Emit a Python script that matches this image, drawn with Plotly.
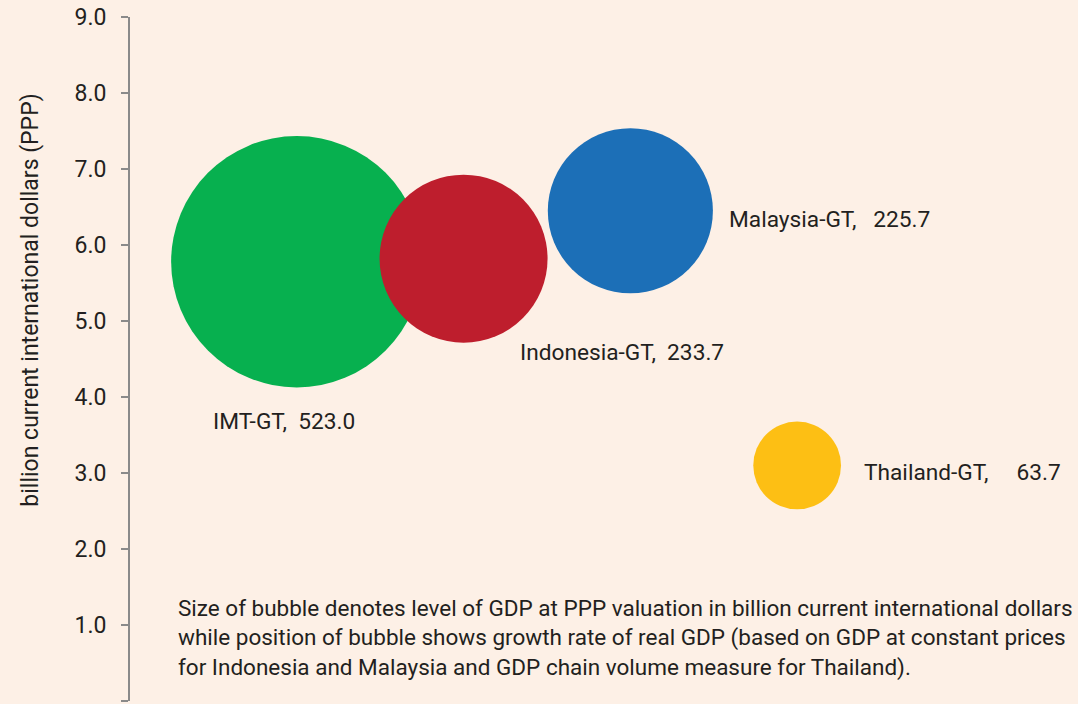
import plotly.graph_objects as go

names = ["IMT-GT", "Indonesia-GT", "Malaysia-GT", "Thailand-GT"]
xpos = [1, 2, 3, 4]
growth = [5.78, 5.82, 6.45, 3.10]
gdp = [523.0, 233.7, 225.7, 63.7]
colors = ["#07b04f", "#be1e2d", "#1c6fb7", "#fdbf14"]
label_text = ["IMT-GT,\u00a0\u00a0523.0", "Indonesia-GT,\u00a0\u00a0233.7",
              "Malaysia-GT,\u00a0\u00a0\u00a0225.7", "Thailand-GT,\u00a0\u00a0\u00a0\u00a0\u00a063.7"]
label_dx = [-86, 54, 97, 65]
label_dy = [-160, -94, -9, -7]

ytick_vals = [0, 1, 2, 3, 4, 5, 6, 7, 8, 9]
ytick_text = ["-", "1.0", "2.0", "3.0", "4.0", "5.0", "6.0", "7.0", "8.0", "9.0"]
y_title = "billion current international dollars (PPP)"

note = ("Size of bubble denotes level of GDP at PPP valuation in billion current international dollars<br>"
        "while position of bubble shows growth rate of real GDP (based on GDP at constant prices<br>"
        "for Indonesia and Malaysia and GDP chain volume measure for Thailand).")

FONT = "Roboto, Liberation Sans, sans-serif"
TXT = "#231f20"
AX = "#8a8a8a"

fig = go.Figure()
fig.add_trace(go.Scatter(
    x=xpos, y=growth, mode="markers", cliponaxis=False,
    marker=dict(size=gdp, sizemode="area", sizeref=2 * 233.7 / 168.0 ** 2,
                color=colors, opacity=1, line=dict(width=0)),
    hoverinfo="text", text=names, showlegend=False,
))

for xv, yv, t, dx, dy in zip(xpos, growth, label_text, label_dx, label_dy):
    fig.add_annotation(x=xv, y=yv, text=t, showarrow=False, xanchor="left",
                       yanchor="middle", xshift=dx, yshift=dy,
                       font=dict(family=FONT, size=22.7, color=TXT))

fig.add_annotation(x=0.049, y=0.83, xref="paper", yref="y", text=note, showarrow=False,
                   xanchor="left", yanchor="middle", align="left",
                   font=dict(family=FONT, size=22.5, color=TXT))

fig.add_annotation(x=-0.106, y=5.28, xref="paper", yref="y", text=y_title, showarrow=False,
                   textangle=-90, xanchor="center", yanchor="middle",
                   font=dict(family=FONT, size=23, color=TXT))

fig.update_layout(
    width=1078, height=704,
    margin=dict(l=130, r=14, t=17, b=3),
    paper_bgcolor="#fdf0e6", plot_bgcolor="#fdf0e6",
    font=dict(family=FONT, size=23, color=TXT),
    xaxis=dict(range=[0, 5.6], visible=False, showgrid=False, zeroline=False),
    yaxis=dict(range=[0, 9], tickvals=ytick_vals, ticktext=ytick_text,
               showgrid=False, zeroline=False, showline=True, linecolor=AX,
               linewidth=2, ticks="outside", ticklen=7, tickcolor=AX, tickwidth=2,
               ticklabelstandoff=10, tickfont=dict(family=FONT, size=23, color=TXT)),
)

fig.write_html("out.html", post_script="document.body.style.margin='0';",
               config={"displayModeBar": False})
